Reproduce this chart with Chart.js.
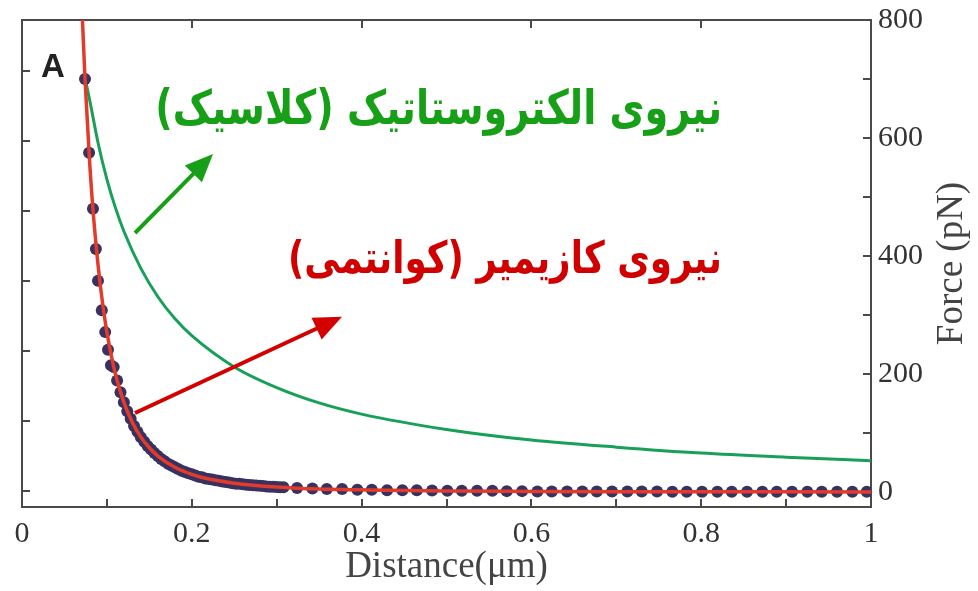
<!DOCTYPE html>
<html>
<head>
<meta charset="utf-8">
<script src="https://cdn.jsdelivr.net/npm/chart.js@4.4.1/dist/chart.umd.min.js"></script>
<style>
  html, body { margin: 0; padding: 0; background: #fff; }
  #wrap { width: 978px; height: 591px; }
</style>
</head>
<body>
<div id="wrap"><canvas id="chart" width="978" height="591"></canvas></div>
<script>
// distance in µm, force in pN
const casimirX = [0.070, 0.0712, 0.0742, 0.08, 0.085, 0.09, 0.095, 0.1, 0.11, 0.12, 0.13, 0.14, 0.15, 0.16,
  0.18, 0.2, 0.22, 0.25, 0.3, 0.35, 0.4, 0.5, 0.6, 0.7, 0.8, 0.9, 1.0];
const casimirY = [845, 800, 700, 551, 454, 379, 319, 271, 200, 152, 118, 93, 75, 61,
  42, 30, 22, 15, 8.5, 5, 3.7, 1.7, 1, 0.6, 0.4, 0.3, 0.2];

const measuredX = [0.0742, 0.079, 0.0836, 0.087, 0.0895, 0.094, 0.098, 0.1013, 0.1048,
  0.108, 0.112, 0.116, 0.120, 0.124, 0.128, 0.132, 0.136, 0.140, 0.144, 0.148, 0.152, 0.156, 0.160,
  0.164, 0.168, 0.172, 0.176, 0.180, 0.184, 0.188, 0.192, 0.196, 0.200, 0.204, 0.208, 0.212, 0.216,
  0.220, 0.224, 0.228, 0.232, 0.236, 0.240, 0.244, 0.248, 0.252, 0.256, 0.260, 0.264, 0.268, 0.272,
  0.276, 0.280, 0.284, 0.288, 0.292, 0.296, 0.300, 0.304, 0.308,
  0.324, 0.342, 0.359, 0.377, 0.395, 0.412, 0.430, 0.448, 0.465, 0.483, 0.501, 0.518, 0.536,
  0.554, 0.571, 0.589, 0.607, 0.624, 0.642, 0.660, 0.677, 0.695, 0.713, 0.730, 0.748, 0.766,
  0.783, 0.801, 0.819, 0.836, 0.854, 0.872, 0.889, 0.907, 0.925, 0.942, 0.960, 0.978, 0.995];
const measuredY = [700, 575, 480, 412, 358, 308, 271, 241, 215,
  212, 189, 169, 152, 137, 124, 112, 102, 93, 85, 78, 72, 66, 61,
  56, 52, 48, 45, 42, 39, 36, 34, 32, 30, 28, 26, 25, 23,
  22, 21, 20, 19, 18, 17, 16, 15, 14, 14, 13, 12.5, 12, 11.5,
  11, 10.5, 10, 9.5, 9, 9, 8.5, 8, 8,
  7, 6, 5, 5, 4, 4, 3, 3, 3, 2.5, 2, 2, 2,
  2, 1.5, 1.5, 1, 1, 1, 1, 1, 1, 1, 1, 1, 0.5,
  0.5, 0.5, 0.5, 0.5, 0.5, 0.5, 0.5, 0.5, 0.5, 0.5, 0.5, 0.5, 0.5];

const coulombX = [0.0745, 0.08, 0.09, 0.1, 0.11, 0.12, 0.14, 0.16, 0.18, 0.2, 0.25, 0.3,
  0.35, 0.4, 0.5, 0.6, 0.7, 0.8, 0.9, 1.0];
const coulombY = [700, 662, 589, 530, 482, 442, 379, 331, 294, 265, 212, 177,
  151, 132, 106, 88, 76, 66, 59, 53];

const distanceTicks = [0, 0.1, 0.2, 0.3, 0.4, 0.5, 0.6, 0.7, 0.8, 0.9, 1];
const topTicks = [0.2, 0.4, 0.6, 0.8];
const forceTicks = [0, 100, 200, 300, 400, 500, 600, 700, 800];
const leftTicks = [0, 1, 2, 3, 4, 5, 6];

const notes = [
  { text: "نیروی الکتروستاتیک (کلاسیک)", at: [0.8245, 644], width: 567, color: "#17a017" },
  { text: "نیروی کازیمیر (کوانتمی)", at: [0.8245, 390], width: 434, color: "#d00000" },
];
const arrows = [
  { from: [0.1331, 439], to: [0.225, 573], color: "#17a017" },
  { from: [0.1331, 134], to: [0.3769, 297], color: "#d40000" },
];

const pts = (xs, ys) => xs.map((x, i) => ({ x, y: ys[i] }));

function drawArrow(ctx, x1, y1, x2, y2, color) {
  const ang = Math.atan2(y2 - y1, x2 - x1);
  const head = 28, half = 12;
  const bx = x2 - head * Math.cos(ang), by = y2 - head * Math.sin(ang);
  ctx.strokeStyle = color;
  ctx.fillStyle = color;
  ctx.lineWidth = 4;
  ctx.beginPath();
  ctx.moveTo(x1, y1);
  ctx.lineTo(bx + 2 * Math.cos(ang), by + 2 * Math.sin(ang));
  ctx.stroke();
  ctx.beginPath();
  ctx.moveTo(x2, y2);
  ctx.lineTo(bx + half * Math.sin(ang), by - half * Math.cos(ang));
  ctx.lineTo(bx - half * Math.sin(ang), by + half * Math.cos(ang));
  ctx.closePath();
  ctx.fill();
}

const extras = {
  id: "extras",
  afterDatasetsDraw(chart) {
    const { ctx, chartArea, scales } = chart;
    const sx = scales.x, sy = scales.y;
    ctx.save();
    for (const a of arrows) {
      drawArrow(ctx, sx.getPixelForValue(a.from[0]), sy.getPixelForValue(a.from[1]),
        sx.getPixelForValue(a.to[0]), sy.getPixelForValue(a.to[1]), a.color);
    }
    ctx.direction = "rtl";
    ctx.textAlign = "right";
    ctx.textBaseline = "middle";
    for (const n of notes) {
      ctx.font = "bold 40px 'DejaVu Sans'";
      const size = 40 * n.width / ctx.measureText(n.text).width;
      ctx.font = `bold ${size}px 'DejaVu Sans'`;
      ctx.fillStyle = n.color;
      ctx.save();
      ctx.translate(sx.getPixelForValue(n.at[0]), sy.getPixelForValue(n.at[1]));
      ctx.scale(1, 1.25);
      ctx.fillText(n.text, 0, 0);
      ctx.restore();
    }
    ctx.direction = "ltr";
    ctx.textAlign = "left";
    ctx.textBaseline = "alphabetic";
    ctx.fillStyle = "#222";
    ctx.font = "bold 33px 'Liberation Sans'";
    ctx.fillText("A", chartArea.left + 19, chartArea.top + 57);

    // right axis title, reading bottom to top
    ctx.translate(chart.width - 26, (chartArea.top + chartArea.bottom) / 2);
    ctx.rotate(-Math.PI / 2);
    ctx.textAlign = "center";
    ctx.textBaseline = "middle";
    ctx.fillStyle = "#444";
    ctx.font = "37px 'Liberation Serif'";
    ctx.fillText("Force (pN)", 0, 0);
    ctx.restore();
  },
};

Chart.defaults.font.family = "'Liberation Serif', 'Times New Roman', serif";
Chart.defaults.color = "#333";

const frame = { display: true, color: "#4a4a4a", width: 2 };
const inwardTicks = { drawOnChartArea: false, drawTicks: true, tickLength: -8, color: "#4a4a4a", lineWidth: 2 };

function fixWidth(w) {
  return (s) => { s.width = w; s.paddingTop = 0; s.paddingBottom = 0; };
}
function fixHeight(h) {
  return (s) => { s.height = h; s.paddingLeft = 0; s.paddingRight = 0; };
}

new Chart(document.getElementById("chart"), {
  type: "scatter",
  data: {
    datasets: [
      {
        label: "Casimir fit",
        data: pts(casimirX, casimirY),
        showLine: true,
        borderColor: "#e23b2b",
        borderWidth: 3.5,
        pointRadius: 0,
        cubicInterpolationMode: "monotone",
        clip: 0,
      },
      {
        label: "Measured",
        data: pts(measuredX, measuredY),
        showLine: false,
        backgroundColor: "#37325f",
        borderColor: "#37325f",
        borderWidth: 0,
        pointRadius: 6,
      },
      {
        label: "Electrostatic",
        data: pts(coulombX, coulombY),
        showLine: true,
        borderColor: "#18a05a",
        borderWidth: 3,
        pointRadius: 0,
        cubicInterpolationMode: "monotone",
        clip: 0,
      },
    ],
  },
  options: {
    responsive: false,
    animation: false,
    layout: { padding: 0 },
    plugins: { legend: { display: false }, tooltip: { enabled: false } },
    scales: {
      x: {
        type: "linear",
        position: "bottom",
        min: 0,
        max: 1,
        afterBuildTicks: (s) => { s.ticks = distanceTicks.map((v) => ({ value: v })); },
        afterFit: fixHeight(84),
        border: frame,
        grid: inwardTicks,
        ticks: {
          font: { size: 30 },
          padding: 17,
          maxRotation: 0,
          autoSkip: false,
          callback: (v) => (Math.round(v * 10) % 2 === 0 ? String(Math.round(v * 10) / 10) : ""),
        },
        title: {
          display: true,
          text: "Distance(μm)",
          font: { size: 37 },
          color: "#444",
          padding: { top: 0, bottom: 2 },
        },
      },
      x2: {
        type: "linear",
        position: "top",
        min: 0,
        max: 1,
        afterBuildTicks: (s) => { s.ticks = topTicks.map((v) => ({ value: v })); },
        afterFit: fixHeight(20),
        border: frame,
        grid: inwardTicks,
        ticks: { display: false },
      },
      y: {
        type: "linear",
        position: "right",
        min: -25.4,
        max: 800,
        afterBuildTicks: (s) => { s.ticks = forceTicks.map((v) => ({ value: v })); },
        afterFit: fixWidth(107),
        border: frame,
        grid: inwardTicks,
        ticks: {
          font: { size: 30 },
          padding: 15,
          autoSkip: false,
          callback: (v) => (v % 200 === 0 ? String(v) : ""),
        },
      },
      y2: {
        type: "linear",
        position: "left",
        min: -0.2286,
        max: 6.729,
        afterBuildTicks: (s) => { s.ticks = leftTicks.map((v) => ({ value: v })); },
        afterFit: fixWidth(22),
        border: frame,
        grid: inwardTicks,
        ticks: { display: false },
      },
    },
  },
  plugins: [extras],
});
</script>
</body>
</html>
